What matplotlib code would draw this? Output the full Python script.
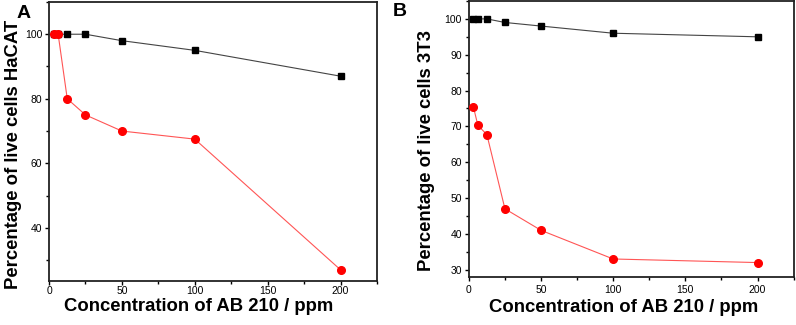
import matplotlib.pyplot as plt
from matplotlib.ticker import MultipleLocator

plt.rcParams['font.family'] = ['Liberation Sans', 'DejaVu Sans']

conc = [3.125, 6.25, 12.5, 25, 50, 100, 200]

hacat_black = [100, 100, 100, 100, 98, 95, 87]
hacat_red = [100, 100, 80, 75, 70, 67.5, 27]

t3_black = [100, 100, 100, 99, 98, 96, 95]
t3_red = [75.5, 70.3, 67.7, 47, 41, 33, 32]

fig = plt.figure(figsize=(7.96, 3.25), dpi=100)
axA = fig.add_axes([0.0616, 0.135, 0.412, 0.859])
axB = fig.add_axes([0.589, 0.148, 0.408, 0.849])


def style(ax, ylab, ylim, ymaj, ymin, xpad, xlab_pos, ylab_pos):
    for s in ax.spines.values():
        s.set_linewidth(1.3)
        s.set_color('#222222')
    ax.set_xlim(0, 225)
    ax.set_ylim(*ylim)
    ax.xaxis.set_major_locator(MultipleLocator(50))
    ax.xaxis.set_minor_locator(MultipleLocator(25))
    ax.yaxis.set_major_locator(MultipleLocator(ymaj))
    ax.yaxis.set_minor_locator(MultipleLocator(ymin))
    ax.tick_params(which='major', direction='out', length=3, width=1,
                   labelsize=7.5, pad=2)
    ax.tick_params(axis='x', which='major', pad=xpad)
    ax.tick_params(which='minor', direction='out', length=2, width=1)
    ax.set_xlabel('Concentration of AB 210 / ppm', fontsize=13.3, fontweight='bold')
    ax.set_ylabel(ylab, fontsize=13.3, fontweight='bold')
    ax.xaxis.set_label_coords(*xlab_pos)
    ax.yaxis.set_label_coords(*ylab_pos)


for ax, blk, red in [(axA, hacat_black, hacat_red), (axB, t3_black, t3_red)]:
    ax.plot(conc, blk, color='#444444', lw=0.8, marker='s', ms=5,
            mfc='black', mec='black', zorder=3)
    ax.plot(conc, red, color='#ff5555', lw=0.8, marker='o', ms=5.5,
            mfc='red', mec='red', zorder=4)

style(axA, 'Percentage of live cells HaCAT', (23.5, 110), 20, 10, 0.5,
      (0.457, -0.061), (-0.082, 0.454))
style(axB, 'Percentage of live cells 3T3', (28, 105), 10, 5, 3,
      (0.477, -0.08), (-0.105, 0.457))

fig.text(0.021, 0.958, 'A', fontsize=14, fontweight='bold', va='center')
fig.text(0.493, 0.966, 'B', fontsize=14, fontweight='bold', va='center')

fig.savefig('out.png', dpi=100)
